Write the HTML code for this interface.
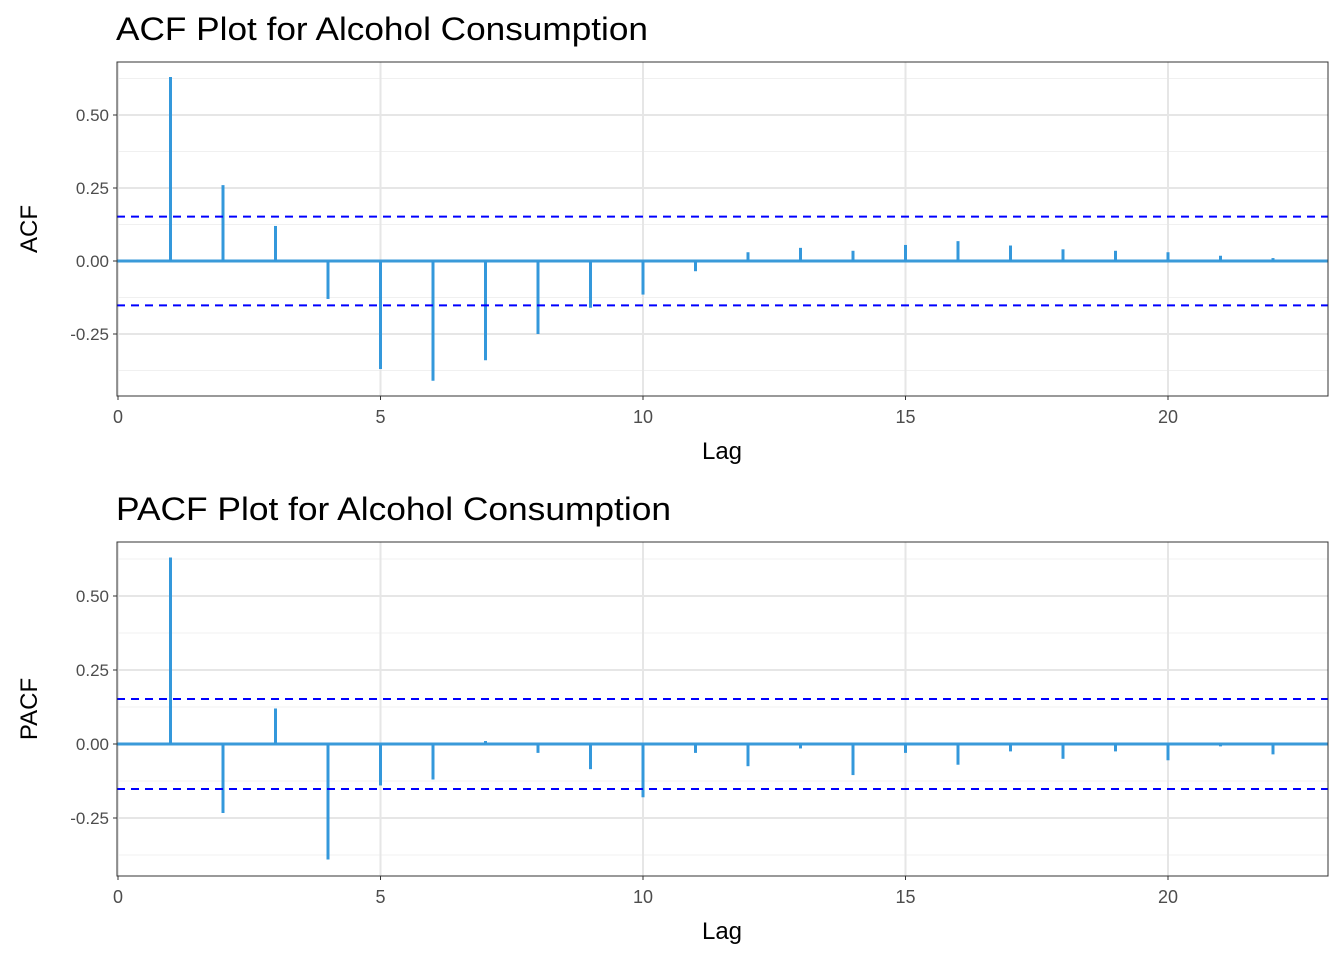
<!DOCTYPE html>
<html><head><meta charset="utf-8"><style>
body{margin:0;background:#fff;}
svg text{font-family:"Liberation Sans",Arial,sans-serif;}
</style></head><body>
<svg id="chart" width="1344" height="960" xmlns="http://www.w3.org/2000/svg"></svg>
<script>
const lags = [1,2,3,4,5,6,7,8,9,10,11,12,13,14,15,16,17,18,19,20,21,22];
const acfValues = [0.63,0.26,0.12,-0.13,-0.37,-0.41,-0.34,-0.25,-0.16,-0.115,-0.035,0.03,0.045,0.035,0.055,0.068,0.053,0.04,0.035,0.03,0.018,0.01];
const pacfValues = [0.63,-0.233,0.12,-0.39,-0.14,-0.12,0.01,-0.03,-0.085,-0.18,-0.03,-0.075,-0.015,-0.105,-0.03,-0.07,-0.025,-0.05,-0.025,-0.055,-0.008,-0.035];
const ciBound = [0.152];
const xTicks = [0,5,10,15,20];
const yTicks = [0.5,0.25,0,-0.25];
const yTickLabels = ["0.50","0.25","0.00","-0.25"];
const NS="http://www.w3.org/2000/svg";
const svg=document.getElementById('chart');
function mk(tag,attrs,parent){const e=document.createElementNS(NS,tag);for(const k in attrs)e.setAttribute(k,attrs[k]);(parent||svg).appendChild(e);return e;}
function panel(cfg){
  const g=mk('g',{});
  
  
  const L=117,R=1328,T=cfg.top,B=cfg.bottom;
  const x=v=>118+v*52.5;
  const y=v=>cfg.zero-v*cfg.scale;
  mk('rect',{x:L,y:T,width:R-L,height:B-T,fill:'#fff'},g);
  [0.625,0.375,0.125,-0.125,-0.375].forEach(v=>{if(y(v)>T&&y(v)<B)mk('line',{x1:L,x2:R,y1:y(v),y2:y(v),stroke:'#f0f0f0','stroke-width':1},g);});
  yTicks.forEach(v=>mk('line',{x1:L,x2:R,y1:y(v),y2:y(v),stroke:'#e6e6e6','stroke-width':2},g));
  xTicks.forEach(v=>mk('line',{x1:x(v),x2:x(v),y1:T,y2:B,stroke:'#e6e6e6','stroke-width':2},g));
  mk('line',{x1:L,x2:R,y1:y(0),y2:y(0),stroke:'#3a9ad9','stroke-width':3},g);
  cfg.values.forEach((v,i)=>{
    const b=mk('line',{x1:x(lags[i]),x2:x(lags[i]),y1:y(0),y2:y(v),stroke:'#3498db','stroke-width':3},g);
    
    
  });
  [ciBound[0],-ciBound[0]].forEach(v=>{
    const l=mk('line',{x1:L,x2:R,y1:y(v),y2:y(v),stroke:'#0000ff','stroke-width':2,'stroke-dasharray':'8,6'},g);
    
    
  });
  mk('rect',{x:L,y:T,width:R-L,height:B-T,fill:'none',stroke:'#333','stroke-width':1},g);
  yTicks.forEach((v,i)=>{
    mk('line',{x1:L-4,x2:L,y1:y(v),y2:y(v),stroke:'#333'},g);
    const t=mk('text',{x:L-8,y:y(v)+6,'text-anchor':'end','font-size':17,fill:'#4d4d4d'},g);t.textContent=yTickLabels[i];
  });
  xTicks.forEach(v=>{
    mk('line',{x1:x(v),x2:x(v),y1:B,y2:B+4,stroke:'#333'},g);
    const t=mk('text',{x:x(v),y:B+27,'text-anchor':'middle','font-size':18,fill:'#4d4d4d'},g);t.textContent=v;
  });
  const xl=mk('text',{x:722,y:B+63,'text-anchor':'middle','font-size':24,fill:'#000'},g);xl.textContent='Lag';
  
  const yl=mk('text',{x:37,y:(T+B)/2,'text-anchor':'middle','font-size':24,fill:'#000',transform:`rotate(-90 37 ${(T+B)/2})`},g);yl.textContent=cfg.ylab;
  
  const ti=mk('text',{x:116,y:T-22,'font-size':32,fill:'#000',textLength:cfg.titleLen,lengthAdjust:'spacingAndGlyphs'},g);ti.textContent=cfg.title;
  
}
panel({name:'acf',top:62,bottom:396,zero:261,scale:292,values:acfValues,ylab:'ACF',title:'ACF Plot for Alcohol Consumption',titleLen:532});
panel({name:'pacf',top:542,bottom:876,zero:744,scale:296,values:pacfValues,ylab:'PACF',title:'PACF Plot for Alcohol Consumption',titleLen:555});
</script>
</body></html>
